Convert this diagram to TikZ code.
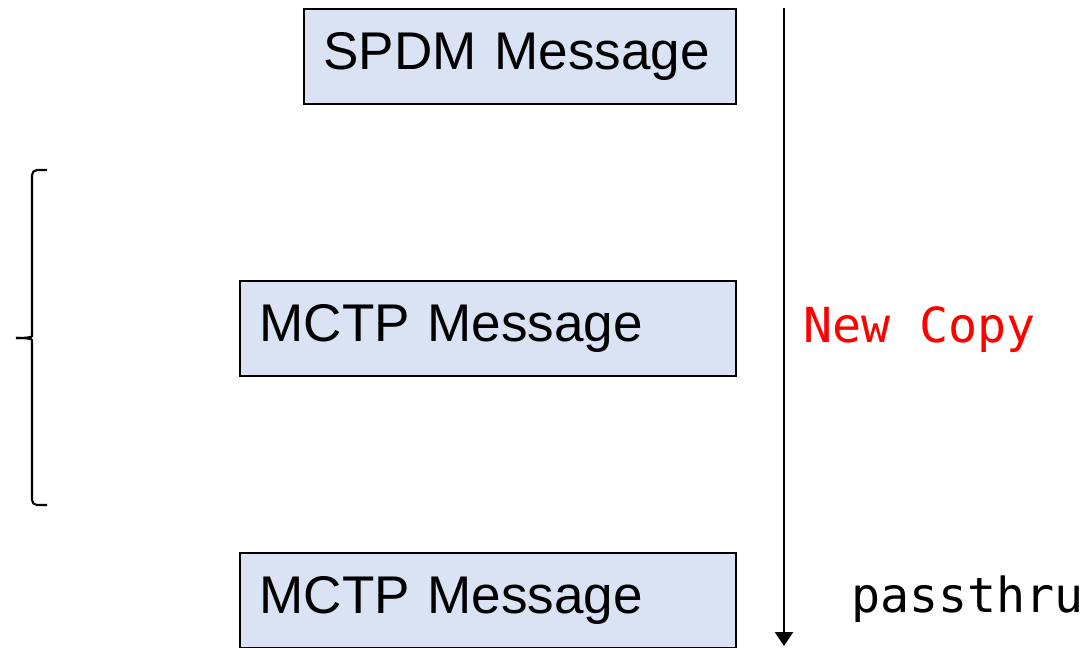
\documentclass[tikz,border=0pt]{standalone}
\usepackage{fontspec}
\setmainfont{Liberation Sans}
\newfontfamily\codefont{DejaVu Sans Mono}
\usetikzlibrary{arrows.meta,positioning}

\definecolor{msgblue}{RGB}{218,227,243}

\begin{document}
\begin{tikzpicture}[
    x=0.02cm, y=-0.02cm,
    msg/.style={rectangle, draw, line width=0.8pt, fill=msgblue, align=left, inner xsep=0.39cm, minimum height=1.9cm, font=\fontsize{30.2}{36}\selectfont},
    note/.style={anchor=base west, inner sep=0pt, font=\codefont\fontsize{27.5}{32}\selectfont},
    arrow/.style={-{Triangle[width=0.36cm, length=0.28cm]}, line width=1.1pt},
    brace/.style={line width=1.2pt, rounded corners=0.1cm}
]
\useasboundingbox (0,0) rectangle (1092,647);

% Messages
\node[msg, text width=7.86cm] at (520,56.5) (spdm) {SPDM Message};
\node[msg, text width=9.14cm] at (488,328.5) (mctpa) {MCTP Message};
\node[msg, text width=9.14cm] at (488,600.5) (mctpb) {MCTP Message};

% Flow arrow
\coordinate (top) at (784,8);
\coordinate (bottom) at (784,646);
\draw[arrow] (top) -- (bottom);

% Labels
\node[note, text=red] at (803,342) (copy) {New Copy};
\node[note] at (851,612) (pass) {passthru};

% Brace
\coordinate (tip) at (16,338);
\draw[brace] (47,170) -- (32,170) -- (32,331) .. controls (32,337) and (28,338) .. (tip);
\draw[brace] (47,505) -- (32,505) -- (32,345) .. controls (32,339) and (28,338) .. (tip);

\end{tikzpicture}
\end{document}
